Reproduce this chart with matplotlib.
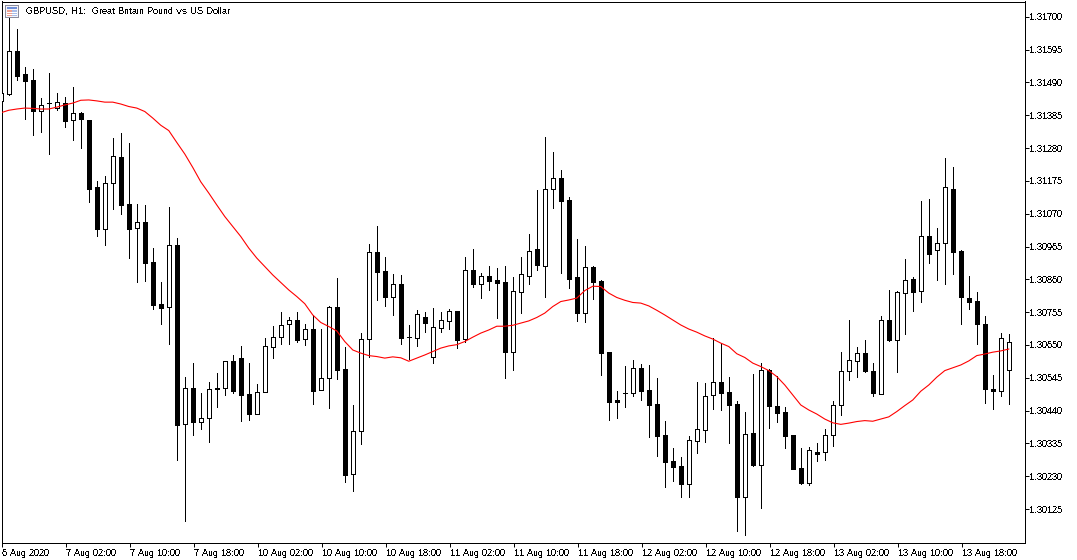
import matplotlib
matplotlib.use('Agg')
import matplotlib.pyplot as plt
import numpy as np
from matplotlib.patches import Rectangle
from matplotlib.transforms import Affine2D

plt.rcParams['font.family'] = ['Liberation Sans', 'DejaVu Sans']
plt.rcParams['text.antialiased'] = False
plt.rcParams['text.hinting'] = 'native'
plt.rcParams['text.hinting_factor'] = 1

title = 'GBPUSD, H1:  Great Britain Pound vs US Dollar'
date_labels = ['6 Aug 2020', '7 Aug 02:00', '7 Aug 10:00', '7 Aug 18:00', '10 Aug 02:00', '10 Aug 10:00',
               '10 Aug 18:00', '11 Aug 02:00', '11 Aug 10:00', '11 Aug 18:00', '12 Aug 02:00', '12 Aug 10:00',
               '12 Aug 18:00', '13 Aug 02:00', '13 Aug 10:00', '13 Aug 18:00']
price_ticks = [1.30125, 1.30230, 1.30335, 1.30440, 1.30545, 1.30650, 1.30755, 1.30860, 1.30965, 1.31070,
               1.31175, 1.31280, 1.31385, 1.31490, 1.31595, 1.31700]

opens = [1.31431, 1.31454, 1.31591, 1.31518, 1.31498, 1.31399, 1.31425, 1.31409, 1.31425, 1.31370,
         1.31393, 1.31370, 1.31156, 1.31022, 1.31169, 1.31252, 1.31102, 1.31025, 1.31044, 1.30916,
         1.30782, 1.30772, 1.30970, 1.30398, 1.30513, 1.30404, 1.30417, 1.30513, 1.30513, 1.30599,
         1.30609, 1.30494, 1.30430, 1.30500, 1.30644, 1.30676, 1.30718, 1.30730, 1.30670, 1.30702,
         1.30506, 1.30545, 1.30772, 1.30574, 1.30238, 1.30375, 1.30670, 1.30948, 1.30887, 1.30804,
         1.30846, 1.30676, 1.30673, 1.30740, 1.30612, 1.30705, 1.30727, 1.30759, 1.30670, 1.30890,
         1.30846, 1.30871, 1.30858, 1.30852, 1.30628, 1.30820, 1.30871, 1.30958, 1.30903, 1.31150,
         1.31185, 1.31114, 1.30868, 1.30753, 1.30900, 1.30855, 1.30628, 1.30474, 1.30497, 1.30497,
         1.30577, 1.30506, 1.30462, 1.30362, 1.30279, 1.30263, 1.30206, 1.30343, 1.30378, 1.30490,
         1.30532, 1.30500, 1.30462, 1.30164, 1.30369, 1.30266, 1.30570, 1.30455, 1.30436, 1.30362,
         1.30257, 1.30209, 1.30308, 1.30308, 1.30362, 1.30458, 1.30567, 1.30599, 1.30625, 1.30567,
         1.30494, 1.30730, 1.30666, 1.30817, 1.30862, 1.30823, 1.30999, 1.30954, 1.30977, 1.31150,
         1.30951, 1.30801, 1.30791, 1.30718, 1.30510, 1.30503, 1.30570]
highs = [1.31466, 1.31716, 1.31662, 1.31540, 1.31534, 1.31441, 1.31521, 1.31457, 1.31444, 1.31476,
         1.31396, 1.31370, 1.31175, 1.31191, 1.31313, 1.31329, 1.31297, 1.31102, 1.31098, 1.30961,
         1.30852, 1.31092, 1.30993, 1.30548, 1.30593, 1.30497, 1.30532, 1.30561, 1.30599, 1.30618,
         1.30647, 1.30593, 1.30526, 1.30673, 1.30711, 1.30756, 1.30740, 1.30756, 1.30718, 1.30746,
         1.30702, 1.30775, 1.30865, 1.30644, 1.30458, 1.30689, 1.30974, 1.31031, 1.30932, 1.30878,
         1.30874, 1.30714, 1.30762, 1.30756, 1.30769, 1.30756, 1.30766, 1.30759, 1.30932, 1.30958,
         1.30881, 1.30903, 1.30897, 1.30903, 1.30868, 1.30932, 1.31006, 1.31146, 1.31316, 1.31268,
         1.31210, 1.31124, 1.30990, 1.30967, 1.30903, 1.30858, 1.30628, 1.30503, 1.30583, 1.30602,
         1.30590, 1.30586, 1.30545, 1.30407, 1.30321, 1.30292, 1.30359, 1.30532, 1.30529, 1.30673,
         1.30657, 1.30548, 1.30471, 1.30436, 1.30558, 1.30593, 1.30574, 1.30551, 1.30452, 1.30362,
         1.30321, 1.30324, 1.30337, 1.30382, 1.30471, 1.30628, 1.30730, 1.30644, 1.30666, 1.30593,
         1.30743, 1.30826, 1.30823, 1.30926, 1.30868, 1.31111, 1.31118, 1.31025, 1.31249, 1.31220,
         1.30954, 1.30871, 1.30820, 1.30743, 1.30554, 1.30689, 1.30686]
lows = [1.31425, 1.31450, 1.31498, 1.31374, 1.31322, 1.31332, 1.31262, 1.31402, 1.31348, 1.31306,
        1.31281, 1.31108, 1.30999, 1.30970, 1.31086, 1.31070, 1.30929, 1.30852, 1.30855, 1.30766,
        1.30718, 1.30654, 1.30282, 1.30087, 1.30362, 1.30382, 1.30340, 1.30452, 1.30490, 1.30497,
        1.30407, 1.30410, 1.30430, 1.30500, 1.30609, 1.30654, 1.30654, 1.30660, 1.30650, 1.30462,
        1.30506, 1.30449, 1.30542, 1.30212, 1.30183, 1.30334, 1.30612, 1.30794, 1.30775, 1.30746,
        1.30654, 1.30606, 1.30647, 1.30692, 1.30593, 1.30692, 1.30702, 1.30641, 1.30660, 1.30836,
        1.30801, 1.30826, 1.30737, 1.30545, 1.30570, 1.30753, 1.30846, 1.30890, 1.30804, 1.31089,
        1.30881, 1.30833, 1.30727, 1.30724, 1.30798, 1.30554, 1.30410, 1.30417, 1.30452, 1.30487,
        1.30474, 1.30356, 1.30295, 1.30196, 1.30215, 1.30164, 1.30164, 1.30305, 1.30340, 1.30446,
        1.30442, 1.30337, 1.30055, 1.30042, 1.30263, 1.30129, 1.30385, 1.30404, 1.30321, 1.30254,
        1.30206, 1.30202, 1.30279, 1.30282, 1.30327, 1.30426, 1.30538, 1.30548, 1.30564, 1.30487,
        1.30494, 1.30663, 1.30564, 1.30686, 1.30759, 1.30788, 1.30913, 1.30858, 1.30846, 1.30878,
        1.30718, 1.30766, 1.30654, 1.30465, 1.30446, 1.30487, 1.30462]
closes = [1.31457, 1.31591, 1.31511, 1.31495, 1.31399, 1.31418, 1.31425, 1.31428, 1.31367, 1.31393,
          1.31374, 1.31150, 1.31022, 1.31169, 1.31255, 1.31098, 1.31022, 1.31044, 1.30913, 1.30778,
          1.30769, 1.30970, 1.30394, 1.30513, 1.30404, 1.30417, 1.30510, 1.30510, 1.30599, 1.30503,
          1.30490, 1.30430, 1.30500, 1.30647, 1.30676, 1.30714, 1.30730, 1.30666, 1.30702, 1.30503,
          1.30545, 1.30772, 1.30570, 1.30234, 1.30375, 1.30670, 1.30948, 1.30884, 1.30804, 1.30846,
          1.30673, 1.30676, 1.30750, 1.30721, 1.30708, 1.30730, 1.30759, 1.30666, 1.30890, 1.30846,
          1.30871, 1.30855, 1.30849, 1.30628, 1.30823, 1.30878, 1.30951, 1.30906, 1.31150, 1.31185,
          1.31111, 1.30862, 1.30753, 1.30900, 1.30852, 1.30625, 1.30468, 1.30468, 1.30497, 1.30577,
          1.30503, 1.30458, 1.30359, 1.30276, 1.30260, 1.30206, 1.30346, 1.30382, 1.30487, 1.30532,
          1.30497, 1.30458, 1.30164, 1.30366, 1.30266, 1.30570, 1.30455, 1.30433, 1.30359, 1.30254,
          1.30209, 1.30314, 1.30302, 1.30362, 1.30458, 1.30567, 1.30602, 1.30625, 1.30567, 1.30497,
          1.30730, 1.30666, 1.30820, 1.30858, 1.30820, 1.30999, 1.30942, 1.30977, 1.31156, 1.30948,
          1.30804, 1.30788, 1.30718, 1.30510, 1.30503, 1.30673, 1.30660]
moving_avg = [1.31393, 1.31401, 1.31405, 1.31408, 1.31407, 1.31405, 1.31405, 1.31411, 1.31418, 1.31424,
              1.31433, 1.31434, 1.31431, 1.31427, 1.31427, 1.31421, 1.31413, 1.31408, 1.31397, 1.31376,
              1.31353, 1.31336, 1.31298, 1.31261, 1.31218, 1.31172, 1.31136, 1.31098, 1.31061, 1.31029,
              1.30997, 1.30960, 1.30928, 1.30901, 1.30874, 1.30850, 1.30826, 1.30805, 1.30782, 1.30746,
              1.30722, 1.30709, 1.30695, 1.30661, 1.30634, 1.30624, 1.30616, 1.30613, 1.30608, 1.30612,
              1.30609, 1.30598, 1.30608, 1.30618, 1.30629, 1.30640, 1.30647, 1.30651, 1.30661, 1.30675,
              1.30688, 1.30698, 1.30710, 1.30710, 1.30713, 1.30720, 1.30727, 1.30738, 1.30752, 1.30773,
              1.30789, 1.30794, 1.30800, 1.30824, 1.30838, 1.30837, 1.30816, 1.30802, 1.30793, 1.30786,
              1.30784, 1.30775, 1.30761, 1.30746, 1.30730, 1.30714, 1.30701, 1.30691, 1.30679, 1.30669,
              1.30656, 1.30645, 1.30622, 1.30610, 1.30592, 1.30581, 1.30568, 1.30549, 1.30522, 1.30490,
              1.30458, 1.30442, 1.30429, 1.30413, 1.30401, 1.30396, 1.30400, 1.30405, 1.30408, 1.30406,
              1.30413, 1.30420, 1.30437, 1.30456, 1.30474, 1.30502, 1.30522, 1.30547, 1.30568, 1.30577,
              1.30586, 1.30599, 1.30616, 1.30621, 1.30627, 1.30631, 1.30637]

W, H = 1077, 560
px = 0.72  # one pixel in points at 100 dpi

fig = plt.figure(figsize=(W / 100, H / 100), dpi=100)
ax = fig.add_axes([1.5 / W, (H - 542.5) / H, 1023 / W, 541 / H])

o = np.array(opens)
c = np.array(closes)
x = np.arange(len(o))

ax.vlines(x, lows, highs, color='black', linewidth=px, antialiased=False, zorder=2)
body_colors = ['white' if b >= a else 'black' for a, b in zip(o, c)]
ax.bar(x, np.abs(c - o), bottom=np.minimum(o, c), width=0.5, color=body_colors, edgecolor='black',
       linewidth=px, antialiased=False, zorder=3)
ax.plot(x, moving_avg, color='#ff0000', linewidth=0.8, zorder=4)

# bars sit a fraction of a pixel off the spines so snapping lands on the grid
x_shift = 0.09
ax.set_xlim(x_shift, 127.875 + x_shift)
ax.set_ylim(1.30018, 1.31749)

ax.yaxis.tick_right()
ax.set_yticks(price_ticks)
ax.set_yticklabels(['%.5f' % p for p in price_ticks])
ax.set_xticks(np.arange(len(date_labels)) * 8 + x_shift)
ax.set_xticklabels(date_labels, ha='left')
ax.tick_params(axis='both', length=3.2, width=px, labelsize=6.3, color='black')
ax.tick_params(axis='x', pad=1.5)
ax.tick_params(axis='y', pad=0.2)
for line in ax.get_xticklines() + ax.get_yticklines():
    line.set_antialiased(False)
for spine in ax.spines.values():
    spine.set_linewidth(px)
    spine.set_antialiased(False)

fig.text(26 / W, 1 - 11.5 / H, title, fontsize=6.3, va='center', ha='left')

# little window icon next to the symbol name, placed in pixels from the top left
to_fig = Affine2D().scale(1, -1).translate(0, H)
icon = [(5, 5, 14, 13, '#8c8c9c'), (6, 6, 12, 11, '#f4f4fa'), (7, 7, 10, 2, '#6f8fd8'),
        (7, 10, 5, 6, '#f0a090'), (12, 10, 5, 6, '#a8bce8'), (7, 12, 10, 1, '#ffffff'),
        (7, 14, 10, 1, '#ffffff')]
for ix, iy, iw, ih, col in icon:
    fig.add_artist(Rectangle((ix, iy), iw, ih, transform=to_fig, facecolor=col, edgecolor='none',
                             antialiased=False, zorder=10))

fig.savefig('out.png', dpi=100)
